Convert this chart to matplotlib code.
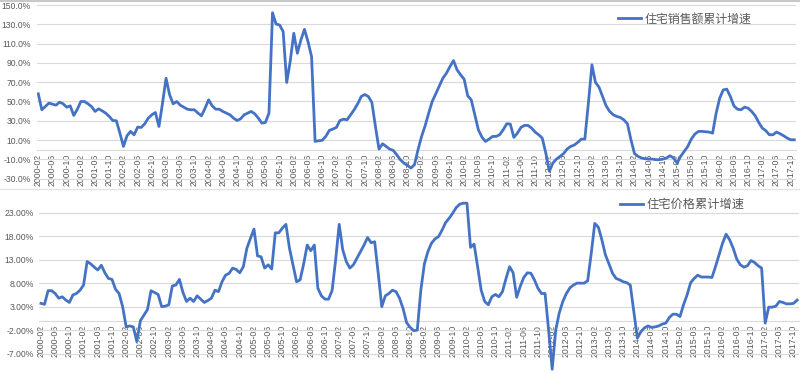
import matplotlib
matplotlib.use("Agg")
import matplotlib.pyplot as plt
import pandas as pd
from matplotlib.lines import Line2D

plt.rcParams['font.family'] = ['Liberation Sans', 'Noto Sans CJK SC', 'DejaVu Sans']

# monthly categories, 2000-02 .. 2017-11
months = [p.strftime('%Y-%m') for p in pd.period_range('2000-02', periods=214, freq='M')]

# 住宅销售额累计增速 (%)
sales_growth = [
    58, 41.4, 44.8, 48.3, 47.2, 46.2, 49.3, 47.6, 44.1, 45.5,
    35.5, 42, 50, 50, 47.6, 44.8, 39.7, 42.4, 40.3, 37.9,
    34.5, 30.3, 30, 17.2, 3.4, 14.5, 19, 15.5, 23.4, 23.1,
    26.9, 32.8, 36.2, 38.6, 24.1, 48, 74.1, 57, 47.6, 50,
    46.2, 44.1, 42, 41.4, 41.4, 37.9, 35.2, 43.1, 51.7, 45.5,
    42, 42, 39.7, 37.9, 36.2, 32.8, 30.3, 32, 36.2, 37.9,
    39.7, 37.2, 32.8, 27.6, 28.3, 37.9, 142, 130.3, 129.3, 122.4,
    69.7, 92, 120.7, 100, 113.8, 124.8, 112, 96.6, 8.6, 9.3,
    9.7, 13.8, 20, 21.4, 23.1, 30.3, 31.7, 31, 36.2, 41.4,
    47.6, 55.2, 57.2, 55.2, 49, 24.1, 0.7, 6.2, 3.4, 0.7,
    -0.7, -5.2, -10.3, -13.8, -16.2, -19, -15.5, 0, 13.8, 24.8,
    37.9, 50, 58, 66.2, 74.1, 79.3, 86.2, 92.4, 82.8, 77.6,
    73.1, 55.9, 51.7, 36.2, 20.7, 13.1, 8.6, 11, 13.8, 13.8,
    15.5, 20.7, 26.9, 26.6, 12.8, 17.2, 23.1, 25.2, 25.2, 22.4,
    18.3, 15.5, 12.1, -3.4, -22.4, -13.8, -9.7, -6.9, -4.1, 0.7,
    3.4, 4.8, 7.6, 11, 11, 48.3, 88, 69.7, 64.8, 55.2,
    45.5, 39.7, 36.2, 34.5, 33.4, 31, 26.9, 10.3, -4.1, -6.9,
    -8.6, -9.3, -9.7, -9.7, -10.3, -10.3, -9.7, -8.6, -6.2, -8.6,
    -13.8, -6.9, -1.7, 3.4, 11, 16.2, 19, 19, 18.6, 18.3,
    17.2, 37.9, 53.4, 62, 62.8, 55.2, 45.5, 42, 41.4, 44.1,
    43.1, 39.7, 35.2, 28.3, 22.4, 19.7, 15.5, 15.5, 18.3, 16.6,
    14.5, 12.1, 10.3, 10.3,
]

# 住宅价格累计增速 (%)
price_growth = [
    3.7, 3.5, 6.4, 6.4, 5.8, 4.8, 5.1, 4.4, 3.9, 5.5,
    5.8, 6.5, 7.6, 12.6, 12.1, 11.4, 10.8, 11.8, 10.2, 9,
    8.8, 6.7, 5.8, 3, -1.3, -1.1, -1.3, -4.4, 0, 1.2,
    2.4, 6.4, 6, 5.6, 3, 3.1, 3.4, 7.4, 7.6, 8.8,
    6, 4.1, 4.8, 4.1, 5.3, 4.6, 3.9, 4.3, 4.8, 6.5,
    6.2, 8.3, 9.7, 10.1, 11.2, 10.9, 10.2, 11.5, 15.4, 17.5,
    19.5, 13.8, 13.6, 11.2, 11.9, 11, 18.7, 18.7, 19.7, 20.5,
    15.4, 11.9, 8.3, 8.7, 12.1, 16.1, 14.9, 16.1, 6.9, 5.3,
    4.6, 4.6, 6.4, 12.9, 20.5, 15.1, 12.6, 11.2, 11.9, 13.3,
    14.7, 16.1, 17.7, 16.6, 16.8, 10.1, 3, 5.3, 5.8, 6.5,
    6.2, 4.8, 2.6, -0.4, -1.4, -2.1, -2, 6.5, 12.1, 14.7,
    16.5, 17.4, 17.9, 19.3, 20.9, 21.8, 22.9, 24.1, 24.8, 25,
    25, 15.6, 16.3, 11.5, 6.5, 4.1, 3.4, 5.1, 5.6, 5.1,
    6.2, 9, 11.5, 10.2, 5, 7.3, 9.2, 10.2, 10.1, 8.7,
    6.9, 5.8, 5.8, -2, -10.3, -2, 1.7, 4.1, 5.8, 7,
    7.6, 8, 8, 8, 8.5, 14.3, 20.7, 19.9, 17.2, 14,
    12.1, 10.1, 9, 8.7, 8.3, 8.1, 7.6, 1.9, -3.7, -2.3,
    -1.5, -1.1, -1.4, -1.3, -1.1, -0.7, -0.5, 0.7, 1.4, 1.4,
    0.9, 3.4, 5.5, 8.1, 9, 9.7, 9.3, 9.3, 9.3, 9.2,
    11.5, 14, 16.5, 18.4, 17.2, 15.4, 13.1, 11.9, 11.4, 11.7,
    12.8, 12.4, 11.7, 11.2, -0.5, 2.9, 2.9, 3.1, 4.1, 3.9,
    3.6, 3.6, 3.7, 4.4,
]

sales_ticks = list(range(-30, 151, 20))
price_ticks = list(range(-7, 24, 5))

BLUE = '#4472C4'
GRID = '#d9d9d9'
TXT = '#595959'

W, H = 800, 373
fig = plt.figure(figsize=(8, 3.73), dpi=100)

label_data = {'住宅销售额累计增速': sales_growth, '住宅价格累计增速': price_growth}


def style_axis(ax, yticks, fmt, label):
    x = range(len(months))
    ax.plot(x, label_data[label], color=BLUE, lw=2.0, zorder=3, label=label,
            solid_joinstyle='round')
    ax.set_xlim(-0.5, len(months) - 0.5)
    for s in ['top', 'right', 'left']:
        ax.spines[s].set_visible(False)
    ax.spines['bottom'].set_position(('data', 0))
    ax.spines['bottom'].set_color(GRID)
    ax.set_yticks(yticks)
    ax.set_yticklabels([fmt.format(v) for v in yticks])
    ax.set_xticks(list(x)[::4])
    ax.set_xticklabels(months[::4], rotation=90)
    ax.tick_params(axis='y', length=0, pad=4, labelsize=6.2, labelcolor=TXT)
    ax.tick_params(axis='x', length=0, pad=3, labelsize=6.3, labelcolor=TXT)
    ax.grid(axis='y', color=GRID, lw=0.8)
    ax.set_axisbelow(True)


# top panel: 住宅销售额累计增速
ax1 = fig.add_axes([36.5 / W, 1 - 186 / H, 759.5 / W, 186 / H])
style_axis(ax1, sales_ticks, '{:.1f}%', '住宅销售额累计增速')
ax1.set_ylim(-37.6, 155.2)
ax1.legend(loc='center left', bbox_to_anchor=(0.766, 0.895), frameon=False,
           borderaxespad=0, borderpad=0, handlelength=1.9, handletextpad=0.3,
           prop={'size': 8.6}, labelcolor=TXT)

# bottom panel: 住宅价格累计增速
ax2 = fig.add_axes([39.2 / W, 0, 759.7 / W, 183 / H])
style_axis(ax2, price_ticks, '{:.2f}%', '住宅价格累计增速')
ax2.set_ylim(-11.1, 27.8)
ax2.legend(loc='center left', bbox_to_anchor=(0.7645, 0.918), frameon=False,
           borderaxespad=0, borderpad=0, handlelength=1.9, handletextpad=0.3,
           prop={'size': 8.8}, labelcolor=TXT)

# thin separators from the original screenshot
fig.add_artist(Line2D([0, 1], [1 - 1 / H, 1 - 1 / H], color='#c8c8c8', lw=1.5))
fig.add_artist(Line2D([0, 1], [1 - 189 / H, 1 - 189 / H], color='#e4e4e4', lw=1))

fig.savefig('out.png', dpi=100)
